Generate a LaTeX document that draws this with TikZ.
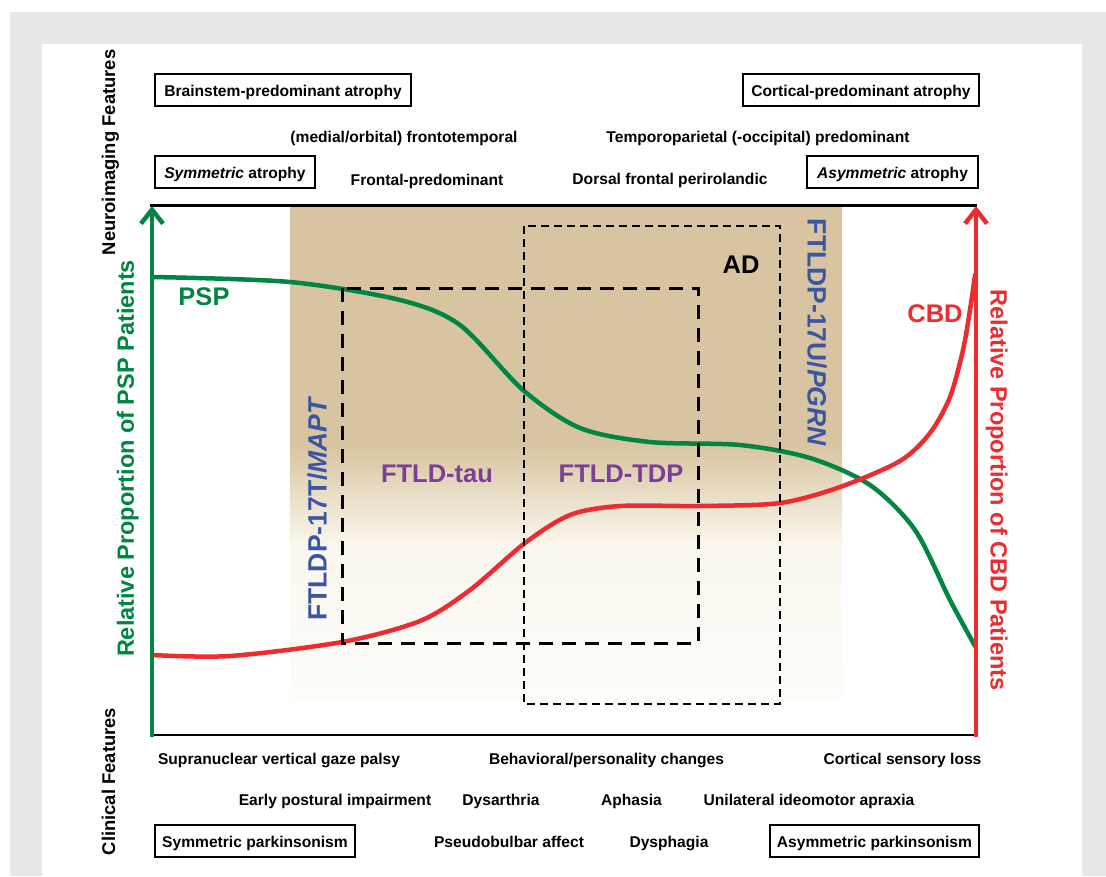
\documentclass[tikz,border=0pt]{standalone}
\usepackage{fontspec}
\setmainfont{Liberation Sans}
\usetikzlibrary{arrows.meta}
\definecolor{bggray}{RGB}{230,231,233}
\definecolor{tanc}{RGB}{216,196,160}
\definecolor{creamA}{RGB}{250,247,238}
\definecolor{creamB}{RGB}{254,253,250}
\definecolor{pspgreen}{RGB}{0,133,66}
\definecolor{cbdred}{RGB}{238,43,46}
\definecolor{genblue}{RGB}{58,85,164}
\definecolor{ftldpurple}{RGB}{123,63,152}
\begin{document}
\begin{tikzpicture}[x=1pt,y=-1pt,
  smallfont/.style={font=\fontsize{15.6}{18}\selectfont\bfseries},
  txt/.style={smallfont, inner sep=0pt, anchor=base},
  featbox/.style={smallfont, draw, line width=2pt, text height=13.2pt, text depth=0pt,
     minimum height=32pt, inner xsep=0pt, inner ysep=0pt},
  sidelabel/.style={font=\fontsize{18.4}{21}\selectfont\bfseries, rotate=90, inner sep=0pt,
     text height=13.2pt, text depth=0pt},
  axislabel/.style={font=\fontsize{23.5}{27}\selectfont\bfseries, inner sep=0pt,
     text height=16.8pt, text depth=0pt},
  biglabel/.style={font=\fontsize{25.5}{30}\selectfont\bfseries, inner sep=0pt,
     text height=18.3pt, text depth=0pt},
  genelabel/.style={font=\fontsize{26.5}{31}\selectfont\bfseries, inner sep=0pt,
     text height=19pt, text depth=0pt, text=genblue},
  curve/.style={line width=4.5pt, line cap=round, smooth, tension=0.5},
  axisarrow/.style={line width=4.5pt, -{Straight Barb[length=14pt,width=22pt]}},
  frameline/.style={line width=2.2pt},
  taubox/.style={line width=3pt, dash pattern=on 14pt off 9pt},
  adbox/.style={line width=1.7pt, dash pattern=on 8pt off 5pt}
]
\useasboundingbox (0,0) rectangle (1106,876);
% background panels
\fill[bggray] (10,12) rectangle (1106,876);
\fill[white] (42,44) rectangle (1082,876);

% tan pathology region
\fill[tanc] (290,207) rectangle (842,446);
\shade[top color=tanc, bottom color=creamA] (290,445) rectangle (842,545);
\shade[top color=creamA, bottom color=creamB] (290,544) rectangle (842,700);

% frame lines
\coordinate (tl) at (150,205.5);
\coordinate (tr) at (977,205.5);
\coordinate (bl) at (150,735);
\coordinate (br) at (977,735);
\draw[frameline] (tl) -- (tr);
\draw[frameline] (bl) -- (br);

% curves
\draw[curve, pspgreen] plot coordinates {(152,277) (290,282) (400,300) (460,325) (523,390) (580,428) (650,442) (740,445) (810,458) (870,485) (915,530) (950,600) (975,646)};
\draw[curve, cbdred] plot coordinates {(152,655) (230,656) (342,642) (420,621) (470,590) (525,543) (570,515) (620,506) (700,506) (780,503) (840,487) (900,461) (930,433) (950,397) (963,350) (970,310) (975,275)};

% dashed boxes
\draw[taubox] (342,288) rectangle (698,643);
\draw[adbox] (524,226) rectangle (780,704);

% axes
\coordinate (gbot) at (152,737);
\coordinate (gtop) at (152,206);
\coordinate (rbot) at (976,737);
\coordinate (rtop) at (976,206);
\draw[axisarrow, pspgreen] (gbot) -- (gtop);
\draw[axisarrow, cbdred] (rbot) -- (rtop);

% side labels
\node[sidelabel] (neuro) at (108.5,152.5) {Neuroimaging Features};
\node[sidelabel] (clin) at (108.5,781.5) {Clinical Features};
\node[axislabel, rotate=90, text=pspgreen] (pspaxis) at (125.5,458.5) {Relative Proportion of PSP Patients};
\node[axislabel, rotate=-90, text=cbdred] (cbdaxis) at (999,490) {Relative Proportion of CBD Patients};

% curve / region labels
\node[biglabel, text=pspgreen] (psp) at (204,296) {PSP};
\node[biglabel, text=cbdred] (cbd) at (935,313) {CBD};
\node[biglabel, text=ftldpurple] (tau) at (437,473) {FTLD-tau};
\node[biglabel, text=ftldpurple] (tdp) at (621,473) {FTLD-TDP};
\node[biglabel] (ad) at (741,264) {AD};
\node[genelabel, rotate=90] (mapt) at (317,508.5) {FTLDP-17T/\textit{MAPT}};
\node[genelabel, rotate=-90] (pgrn) at (817,332.5) {FTLDP-17U/\textit{PGRN}};

% neuroimaging features
\node[featbox, minimum width=256pt] (brainstem) at (283,90) {Brainstem-predominant atrophy};
\node[featbox, minimum width=236pt] (cortical) at (861,90) {Cortical-predominant atrophy};
\node[featbox, minimum width=160pt] (symatr) at (235,171.7) {\textit{Symmetric} atrophy};
\node[featbox, minimum width=171pt] (asymatr) at (892.5,171.7) {\textit{Asymmetric} atrophy};
\node[txt] (medial) at (404,142) {(medial/orbital) frontotemporal};
\node[txt] (tempo) at (758,142) {Temporoparietal (-occipital) predominant};
\node[txt] (frontal) at (427,185) {Frontal-predominant};
\node[txt] (dorsal) at (670,184) {Dorsal frontal perirolandic};

% clinical features
\node[txt] (gaze) at (279,764) {Supranuclear vertical gaze palsy};
\node[txt] (behav) at (606.5,764) {Behavioral/personality changes};
\node[txt] (sensory) at (902.5,764) {Cortical sensory loss};
\node[txt] (postural) at (335,805) {Early postural impairment};
\node[txt] (dysar) at (501,805) {Dysarthria};
\node[txt] (aphasia) at (631.5,805) {Aphasia};
\node[txt] (apraxia) at (809,805) {Unilateral ideomotor apraxia};
\node[txt] (pseudo) at (509,847) {Pseudobulbar affect};
\node[txt] (dysph) at (669,847) {Dysphagia};
\node[featbox, minimum width=200pt] (sympark) at (255,840.5) {Symmetric parkinsonism};
\node[featbox, minimum width=209pt] (asympark) at (874.5,840.5) {Asymmetric parkinsonism};
\end{tikzpicture}
\end{document}
